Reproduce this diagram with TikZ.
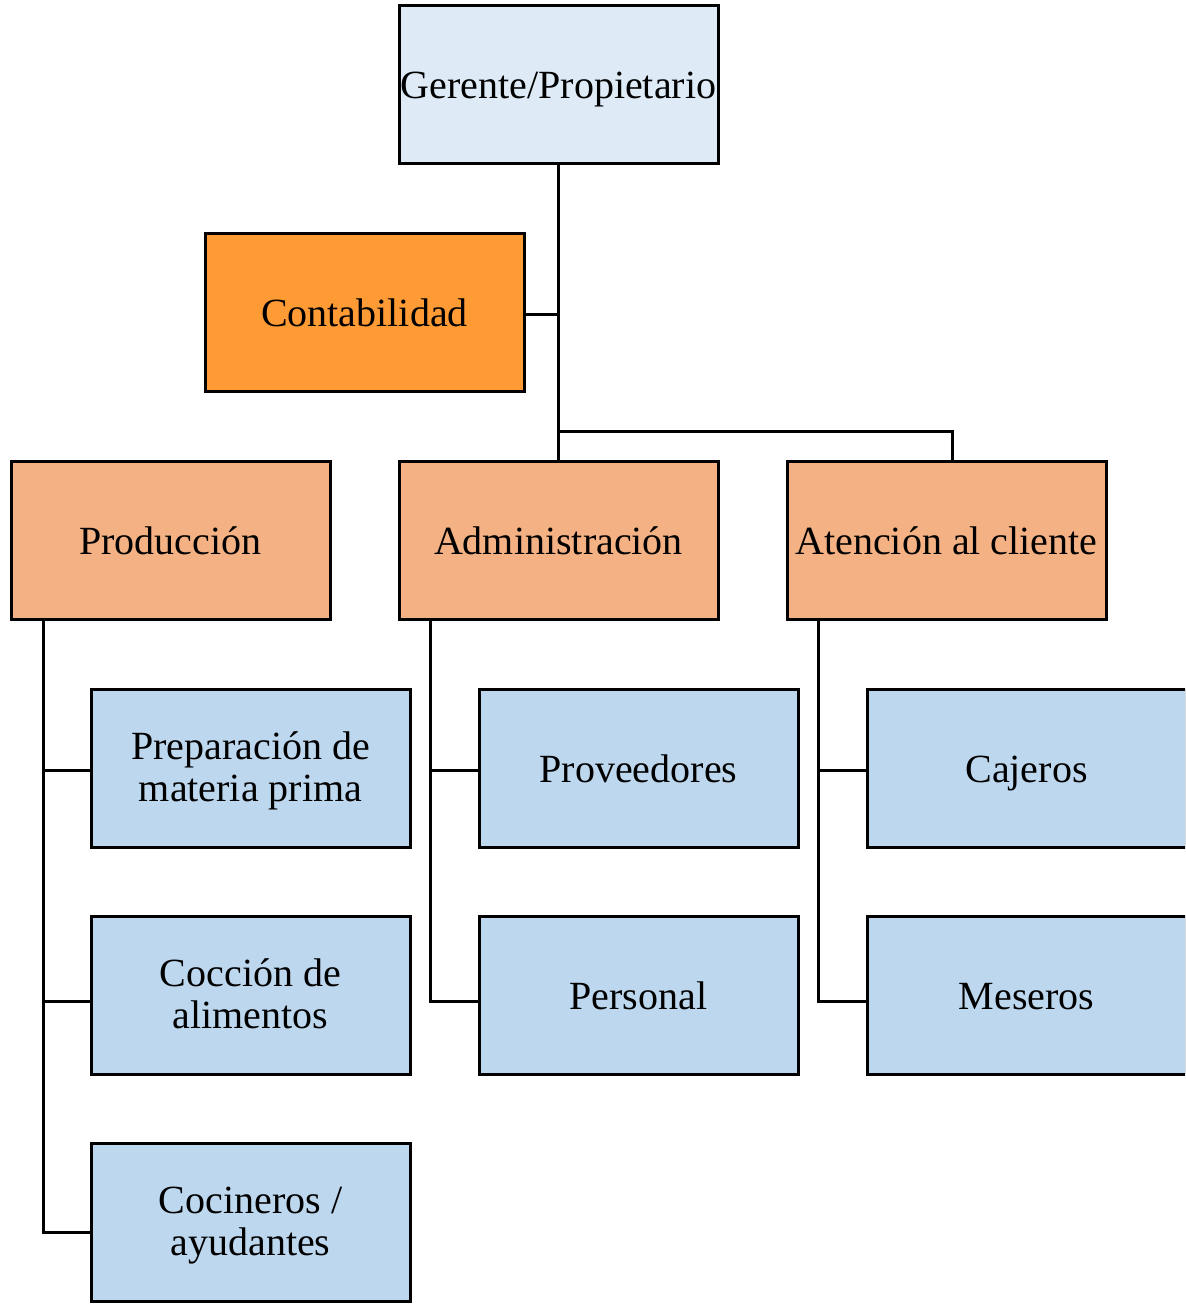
\documentclass[tikz,border=0pt]{standalone}
\usepackage{fontspec}
\setmainfont{Liberation Serif}
\definecolor{topblue}{HTML}{DEEAF6}
\definecolor{accorange}{HTML}{FF9B35}
\definecolor{deptorange}{HTML}{F4B183}
\definecolor{unitblue}{HTML}{BDD7EE}
% fixed line heights so every label sits on the same baseline
\newcommand{\lbl}[1]{\rule{0pt}{19.5pt}#1\rule[-5.5pt]{0pt}{5.5pt}}
\newcommand{\lblm}[1]{\rule{0pt}{18pt}#1\rule[-6pt]{0pt}{6pt}}
\begin{document}
\begin{tikzpicture}[x=0.5pt,y=-0.5pt,
  box/.style={draw=black,line width=1.5pt,minimum width=159.5pt,minimum height=79pt,
    inner sep=0pt,align=center,font=\fontsize{20}{21}\selectfont},
  topbox/.style={box,fill=topblue},
  accbox/.style={box,fill=accorange},
  deptbox/.style={box,fill=deptorange},
  unitbox/.style={box,fill=unitblue},
  link/.style={draw=black,line width=1.5pt}]
\useasboundingbox (0,0) rectangle (1185,1304);
\clip (0,0) rectangle (1185,1304);

% top of the chart
\node[topbox] (ger) at (558.5,85) {\lbl{Gerente/Propietario}};
\node[accbox] (cont) at (364.5,313) {\lbl{Contabilidad}};

% departments
\node[deptbox] (prod) at (170.5,540) {\lbl{Producción}};
\node[deptbox] (adm) at (558.5,540) {\lbl{Administración}};
\node[deptbox] (aten) at (946.5,540) {\lbl{Atención al cliente}};

% units of each department
\node[unitbox] (prep) at (250.5,768) {\lblm{Preparación de\\materia prima}};
\node[unitbox] (cocc) at (250.5,995) {\lblm{Cocción de\\alimentos}};
\node[unitbox] (coci) at (250.5,1222.5) {\lblm{Cocineros /\\ayudantes}};
\node[unitbox] (prov) at (638.5,768) {\lbl{Proveedores}};
\node[unitbox] (pers) at (638.5,995) {\lbl{Personal}};
\node[unitbox] (caj) at (1026.5,768) {\lbl{Cajeros}};
\node[unitbox] (mes) at (1026.5,995) {\lbl{Meseros}};

% junction points
\coordinate (jc) at (558.5,315);
\coordinate (jd) at (558.5,431);
\coordinate (ja) at (952,431);
\coordinate (pv) at (43,620);
\coordinate (av) at (430.5,620);
\coordinate (tv) at (818,620);

% management links
\draw[link] (ger.south) -- (adm.north);
\draw[link] (cont.east |- jc) -- (jc);
\draw[link] (jd) -- (ja) -- (ja |- aten.north);

% production links
\draw[link] (pv) -- (pv |- 0,1232) -- (coci.west |- 0,1232);
\draw[link] (pv |- 0,770.5) -- (prep.west |- 0,770.5);
\draw[link] (pv |- 0,1001) -- (cocc.west |- 0,1001);

% administration links
\draw[link] (av) -- (av |- 0,1001) -- (pers.west |- 0,1001);
\draw[link] (av |- 0,770.5) -- (prov.west |- 0,770.5);

% customer service links
\draw[link] (tv) -- (tv |- 0,1001) -- (mes.west |- 0,1001);
\draw[link] (tv |- 0,770.5) -- (caj.west |- 0,770.5);
\end{tikzpicture}
\end{document}
